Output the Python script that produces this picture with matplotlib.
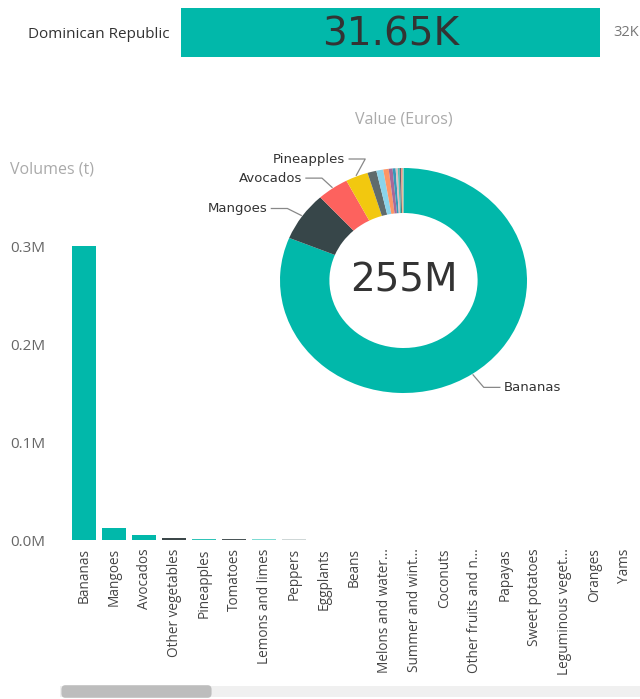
import matplotlib
matplotlib.use("Agg")
import matplotlib.pyplot as plt
import numpy as np
from matplotlib.patches import FancyBboxPatch
from matplotlib.ticker import FuncFormatter

# KPI card
country = "Dominican Republic"
kpi_value = 31650
kpi_target = 32000

# bar chart: volumes (t)
categories = ["Bananas", "Mangoes", "Avocados", "Other vegetables", "Pineapples",
              "Tomatoes", "Lemons and limes", "Peppers", "Eggplants", "Beans",
              "Melons and water...", "Summer and wint...", "Coconuts",
              "Other fruits and n...", "Papayas", "Sweet potatoes",
              "Leguminous veget...", "Oranges", "Yams"]
volumes = [301000, 12600, 5200, 2400, 1300, 1200, 1000, 700, 500, 400,
           300, 300, 250, 200, 200, 150, 100, 60, 30]
bar_colors = ["#01B8AA", "#01B8AA", "#01B8AA", "#3c4749", "#2fc3b7", "#4a5557",
              "#7fdbd3", "#cfd7d7", "#dde3e3", "#e8ecec", "#edf1f1", "#edf1f1",
              "#eef2f2", "#eef2f2", "#f0f3f3", "#f0f3f3", "#f2f4f4", "#f3f5f5", "#f4f6f6"]

# donut: value (Euros), in millions
pie_labels = ["Bananas", "Mangoes", "Avocados", "Pineapples", "Other vegetables",
              "Lemons and limes", "Tomatoes", "Peppers", "Eggplants", "Coconuts",
              "Beans", "Melons and watermelons", "Papayas", "Other fruits and nuts",
              "Sweet potatoes", "Summer and winter squash"]
pie_values = [207, 18, 10.5, 7.5, 3.0, 2.3, 1.8, 1.3, 1.0, 0.7, 0.6, 0.5, 0.3, 0.2, 0.2, 0.1]
pie_colors = ["#01B8AA", "#374649", "#FD625E", "#F2C80F", "#5F6B6D", "#8AD4EB",
              "#FE9666", "#A66999", "#3599B8", "#DFBFBF", "#4AC5BB", "#5F6B6D",
              "#FB8281", "#F4D25A", "#7F898A", "#A4DDEE"]
pie_total = "255M"

W, H = 640, 699
def box(x0, y0, x1, y1):
    # pixel box (top-left origin) -> figure fraction rect
    return [x0 / W, 1 - y1 / H, (x1 - x0) / W, (y1 - y0) / H]

fig = plt.figure(figsize=(6.4, 6.99), dpi=100)
fig.patch.set_facecolor("white")
ui = "Open Sans"

# ---- KPI bar
ak = fig.add_axes(box(181, 8, 605, 57))
ak.barh([0], [kpi_value], height=1, color="#01B8AA")
ak.set_xlim(0, kpi_target)
ak.set_ylim(-0.5, 0.5)
ak.axis("off")
ak.text(kpi_value / 2, -0.04, f"{kpi_value/1000:.2f}K", ha="center", va="center",
        fontsize=28, color="#333333", family="DejaVu Sans")
fig.text(28 / W, 1 - 34 / H, country, fontsize=11, color="#333333", family=ui, va="center")
fig.text(613 / W, 1 - 33 / H, f"{kpi_target/1000:.0f}K", fontsize=10.5, color="#777777",
         family=ui, va="center")

# ---- bar chart
ab = fig.add_axes(box(69, 540 - 0.32 * 977, 640, 540))
x = range(len(categories))
ab.bar(x, volumes, width=0.8, color=bar_colors)
ab.set_xlim(-0.5, len(categories) - 0.5)
ab.set_ylim(0, 320000)
ab.set_yticks([0, 100000, 200000, 300000])
ab.yaxis.set_major_formatter(FuncFormatter(lambda v, p: f"{v/1e6:.1f}M"))
ab.set_xticks(list(x))
ab.set_xticklabels(categories, rotation=90, fontsize=9.8, color="#444444", family=ui)
for lab in ab.get_yticklabels():
    lab.set_family(ui)
ab.tick_params(axis="y", length=0, pad=17, labelsize=11, labelcolor="#666666")
ab.tick_params(axis="x", length=0, pad=6)
for s in ab.spines.values():
    s.set_visible(False)
fig.text(10 / W, 1 - 170 / H, "Volumes (t)", fontsize=11.5, color="#aaaaaa", family=ui, va="center")

# ---- donut
cx, cy, rx, ry = 403.5, 280.5, 123.5, 112.5
ap = fig.add_axes(box(cx - 1.25 * rx, cy - 1.25 * ry, cx + 1.25 * rx, cy + 1.25 * ry))
ap.patch.set_alpha(0)
wedges, _ = ap.pie(pie_values, colors=pie_colors, startangle=90, counterclock=False,
                   wedgeprops=dict(width=0.4, linewidth=0))
ap.set_aspect("auto")
ap.set_xlim(-1.25, 1.25)
ap.set_ylim(-1.25, 1.25)
ap.text(0, 0, pie_total, ha="center", va="center", fontsize=28, color="#333333",
        family="DejaVu Sans")
fig.text(cx / W, 1 - 120 / H, "Value (Euros)", fontsize=11.5, color="#aaaaaa", family=ui,
         ha="center", va="center")

# leader labels: text anchor (data coords) for each labelled slice
label_pos = {"Bananas": (0.81, -0.95), "Mangoes": (-1.10, 0.64),
             "Avocados": (-0.82, 0.91), "Pineapples": (-0.47, 1.08)}
for w, name in zip(wedges, pie_labels):
    if name not in label_pos:
        continue
    tx, ty = label_pos[name]
    mid = np.deg2rad((w.theta1 + w.theta2) / 2)
    ex, ey = np.cos(mid) * 1.01, np.sin(mid) * 1.01
    side = 1 if tx > 0 else -1
    elbow = (tx - side * 0.16, ty)
    ap.plot([ex, elbow[0], tx - side * 0.03], [ey, elbow[1], ty], color="#888888", lw=0.9,
            clip_on=False)
    ap.text(tx, ty, name, ha="left" if side > 0 else "right", va="center", fontsize=9.5,
            color="#333333", family="DejaVu Sans")

# ---- scrollbar
fig.patches.append(FancyBboxPatch((60 / W, 1 - 697 / H), 580 / W, 11 / H,
                                  boxstyle="square,pad=0", transform=fig.transFigure,
                                  facecolor="#f0f0f0", edgecolor="none"))
fig.patches.append(FancyBboxPatch((64 / W, 1 - 695 / H), 145 / W, 7 / H,
                                  boxstyle="round,pad=0.004,rounding_size=0.006",
                                  transform=fig.transFigure,
                                  facecolor="#bdbdbd", edgecolor="none"))

fig.savefig("out.png", dpi=100)
